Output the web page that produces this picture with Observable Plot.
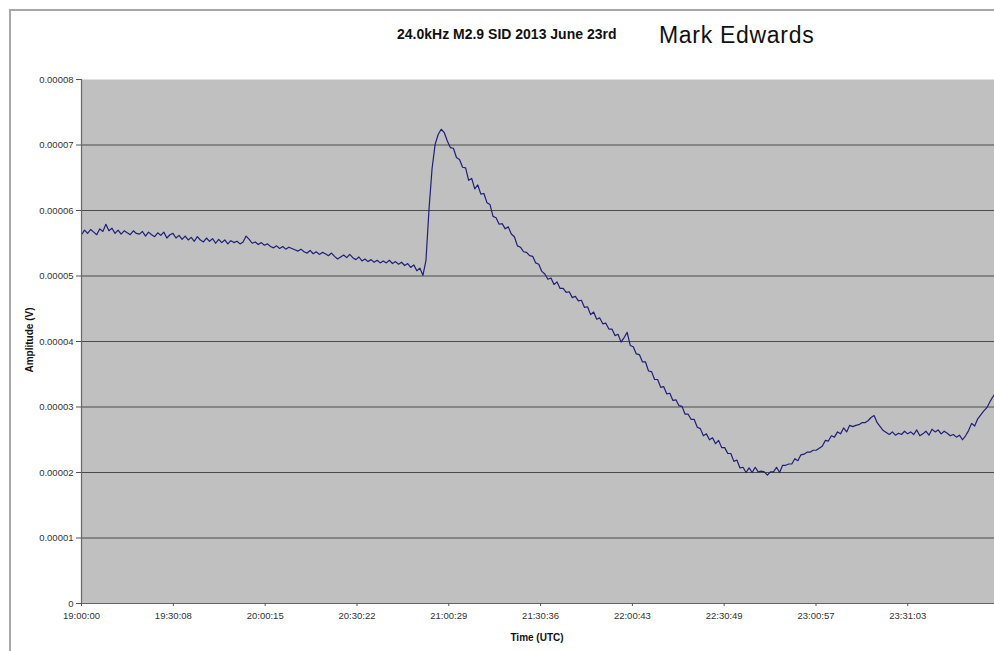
<!DOCTYPE html>
<html>
<head>
<meta charset="utf-8">
<script src="https://cdn.jsdelivr.net/npm/d3@7"></script>
<script src="https://cdn.jsdelivr.net/npm/@observablehq/plot@0.6"></script>
<style>
  html, body { margin: 0; padding: 0; background: #fff; width: 994px; height: 651px; overflow: hidden; }
  #wrap { position: relative; width: 994px; height: 651px; font-family: "Liberation Sans", Arial, sans-serif; }
  #border { position: absolute; left: 9px; top: 9px; width: 1100px; height: 800px; border: 2px solid #a8a8a8; box-sizing: border-box; }
  #chart { position: absolute; left: 0; top: 0; }
  .title { position: absolute; left: 397px; top: 26px; font-size: 14px; font-weight: bold; color: #111; white-space: nowrap; }
  .author { position: absolute; left: 659px; top: 22px; font-size: 23px; letter-spacing: 0.7px; color: #111; white-space: nowrap; }
  .ylab { position: absolute; left: 29px; top: 340px; font-size: 10px; font-weight: bold; color: #111; white-space: nowrap; transform: translate(-50%, -50%) rotate(-90deg); }
  .xlab { position: absolute; left: 537px; top: 637px; font-size: 10px; font-weight: bold; color: #111; white-space: nowrap; transform: translate(-50%, -50%); }
</style>
</head>
<body>
<div id="wrap">
  <div id="border"></div>
  <div id="chart"></div>
  <div class="title">24.0kHz M2.9 SID 2013 June 23rd</div>
  <div class="author">Mark Edwards</div>
  <div class="ylab">Amplitude (V)</div>
  <div class="xlab">Time (UTC)</div>
</div>
<script>
// Sampling start and step (one reading per minute)
const startTime = Date.UTC(2013, 5, 23, 19, 0, 0);
const endTime = Date.UTC(2013, 5, 23, 23, 59, 30);
const stepMinutes = 1;

// Amplitude in microvolts, 19:00 onwards, one value per minute
const amplitudeMicroVolts = [
  56.3, 57.0, 56.5, 57.1, 56.7, 56.3, 57.2, 56.8, 57.9, 56.9,
  57.3, 56.5, 57.0, 56.4, 56.9, 56.6, 56.3, 56.9, 56.5, 56.4,
  56.8, 56.1, 56.7, 56.3, 56.0, 56.6, 56.2, 56.7, 55.8, 56.3,
  56.5, 55.8, 56.2, 55.6, 56.1, 55.5, 55.9, 55.3, 56.0, 55.5,
  55.2, 55.8, 55.3, 55.7, 55.0, 55.6, 55.1, 55.5, 54.9, 55.4,
  55.1, 55.3, 54.9, 55.2, 56.1, 55.6, 55.0, 55.2, 54.8, 55.1,
  54.7, 54.9, 54.5, 54.3, 54.6, 54.2, 54.5, 54.1, 54.4, 54.2,
  54.0, 53.8, 54.1, 53.7, 53.5, 53.9, 53.4, 53.7, 53.3, 53.6,
  53.4, 53.1, 53.5, 53.0, 52.6, 52.9, 53.2, 52.8, 53.3, 52.8,
  52.5, 52.9, 52.3, 52.6, 52.2, 52.5, 52.1, 52.4, 52.0, 52.3,
  52.0, 52.4, 51.9, 52.2, 51.8, 52.1, 51.6, 51.9, 51.3, 51.7,
  50.8, 51.2, 50.1, 52.4, 60.2, 66.4, 70.1, 71.6, 72.4, 71.9,
  70.6, 69.6, 69.5, 68.1, 67.8, 66.6, 66.5, 64.6, 64.9, 63.3,
  63.9, 62.5, 62.6, 61.2, 60.9, 59.1, 58.9, 57.9, 58.0, 57.2,
  57.5, 56.4, 56.0, 54.6, 54.4, 53.7, 53.6, 53.1, 53.0, 52.0,
  51.8, 50.7, 50.3, 49.5, 49.7, 48.7, 49.1, 48.1, 48.1, 47.5,
  47.6, 46.7, 46.9, 46.2, 46.3, 45.2, 45.3, 44.1, 44.5, 43.4,
  43.6, 42.7, 42.8, 41.9, 41.9, 40.9, 41.1, 39.9, 40.6, 41.4,
  39.4, 39.2, 38.1, 38.0, 36.9, 36.9, 35.5, 35.4, 34.2, 34.2,
  33.0, 33.1, 32.0, 32.1, 31.0, 31.1, 30.2, 30.1, 28.9, 28.9,
  28.1, 28.1, 26.9, 26.7, 25.6, 25.9, 25.0, 25.3, 24.4, 24.9,
  23.8, 23.8, 22.9, 22.9, 21.7, 21.9, 20.7, 20.8, 20.0, 20.7,
  20.0, 20.8, 20.1, 20.2, 20.1, 19.6, 20.1, 20.1, 20.8, 20.0,
  21.1, 21.1, 21.3, 21.3, 22.1, 21.8, 22.7, 22.8, 23.1, 23.1,
  23.4, 23.4, 23.7, 24.0, 24.9, 24.8, 25.6, 25.4, 26.2, 25.9,
  26.8, 26.2, 27.2, 27.0, 27.2, 27.3, 27.6, 27.6, 27.9, 28.4,
  28.7, 27.6, 27.0, 26.4, 26.1, 25.8, 26.2, 25.7, 26.0, 25.8,
  26.3, 25.9, 26.2, 25.8, 26.5, 25.6, 25.9, 26.3, 25.7, 26.6,
  26.2, 26.5, 25.9, 26.3, 26.0, 25.6, 25.8, 25.4, 25.7, 25.0,
  25.6, 26.4, 27.5, 27.1, 28.2, 28.8, 29.4, 29.9, 30.8, 31.6,
  32.2
];

// Axis ticks
const xTickLabels = ["19:00:00", "19:30:08", "20:00:15", "20:30:22", "21:00:29",
                     "21:30:36", "22:00:43", "22:30:49", "23:00:57", "23:31:03"];
const yTickValues = [0, 0.00001, 0.00002, 0.00003, 0.00004, 0.00005, 0.00006, 0.00007, 0.00008];
const yTickLabels = ["0", "0.00001", "0.00002", "0.00003", "0.00004", "0.00005", "0.00006", "0.00007", "0.00008"];
const gridValues = [0.00001, 0.00002, 0.00003, 0.00004, 0.00005, 0.00006, 0.00007];

const data = amplitudeMicroVolts.map((v, i) => ({
  time: new Date(startTime + i * stepMinutes * 60000),
  amplitude: v * 1e-6
}));
const xTicks = xTickLabels.map(s => new Date(`2013-06-23T${s}Z`));

const chart = Plot.plot({
  width: 994,
  height: 651,
  marginLeft: 81,
  marginRight: 0,
  marginTop: 79,
  marginBottom: 48,
  style: { fontFamily: "'Liberation Sans', Arial, sans-serif", fontSize: "9.5px", color: "#333", background: "transparent", overflow: "visible" },
  x: { type: "utc", domain: [new Date(startTime), new Date(endTime)] },
  y: { domain: [0, 0.00008] },
  marks: [
    Plot.frame({ fill: "#c0c0c0", stroke: null }),
    Plot.ruleY(gridValues, { stroke: "#4a4a4a", strokeWidth: 1.2 }),
    Plot.line(data, { x: "time", y: "amplitude", stroke: "#1f1f78", strokeWidth: 1.2, clip: true }),
    Plot.ruleY([0], { stroke: "#666", strokeWidth: 1.2 }),
    Plot.ruleX([new Date(startTime)], { stroke: "#666", strokeWidth: 1.2 }),
    Plot.axisY({ ticks: yTickValues, tickFormat: (d, i) => yTickLabels[i], tickSize: 5, tickPadding: 3, label: null, stroke: "#555" }),
    Plot.axisX({ ticks: xTicks, tickFormat: (d, i) => xTickLabels[i], tickSize: 3, tickPadding: 6, label: null, stroke: "#555" })
  ]
});
document.getElementById("chart").appendChild(chart);
</script>
</body>
</html>
